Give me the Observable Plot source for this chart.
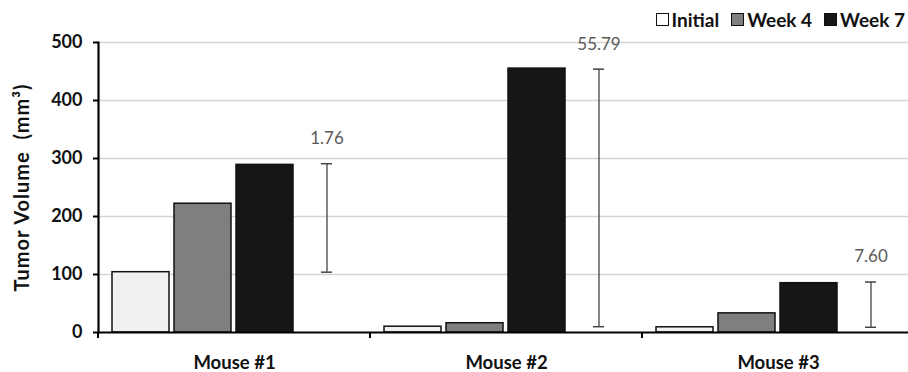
<!DOCTYPE html>
<html>
<head>
<meta charset="utf-8">
<script src="https://cdn.jsdelivr.net/npm/d3@7"></script>
<script src="https://cdn.jsdelivr.net/npm/@observablehq/plot@0.6"></script>
<style>
  html, body { margin: 0; padding: 0; background: #fff; }
  body { width: 908px; height: 372px; overflow: hidden; font-family: Lato, "DejaVu Sans", sans-serif; }
  #legend { height: 30px; display: flex; justify-content: flex-end; align-items: center; padding-right: 3px; font-weight: bold; font-size: 19px; color: #111; box-sizing: border-box; padding-top: 9px; }
  #legend .item { display: flex; align-items: center; margin-left: 12px; }
  #legend .sw { width: 11px; height: 11px; border: 1.5px solid #111; margin-right: 3px; }
  g[aria-label="y-axis label"] { font-size: 20px; letter-spacing: 1px; }
</style>
</head>
<body>
<div id="legend"></div>
<div id="chart"></div>
<script>
// ---- data ----
const mice = ["Mouse #1", "Mouse #2", "Mouse #3"];
const series = ["Initial", "Week 4", "Week 7"];
const initial = [104, 10, 9];
const week4 = [222, 16, 33];
const week7 = [289, 455, 85];
const errLow = [104, 10, 9];
const errHigh = [291, 454, 87];
const foldLabels = ["1.76", "55.79", "7.60"];
const yTicks = [0, 100, 200, 300, 400, 500];
const yLabel = "Tumor Volume  (mm\u00B3)";

// ---- styles ----
const fillColors = ["#f0f0f0", "#7f7f7f", "#161616"];

// ---- tables ----
const valuesBySeries = [initial, week4, week7];
const rows = [];
mice.forEach((m, i) => series.forEach((s, j) => rows.push({mouse: m, series: s, value: valuesBySeries[j][i]})));
const errRows = mice.map((m, i) => ({mouse: m, slot: "err", low: errLow[i], high: errHigh[i], label: foldLabels[i]}));

// legend
const legend = d3.select("#legend");
series.forEach((s, j) => {
  const it = legend.append("div").attr("class", "item");
  it.append("div").attr("class", "sw").style("background", j === 0 ? "#fff" : fillColors[j]);
  it.append("span").text(s);
});

// boundary tick under the x axis at the left edge of each group
function boundaryTick(index, scales, values, dims) {
  const y0 = scales.y(0);
  const g = d3.create("svg:g");
  g.append("line")
    .attr("x1", dims.marginLeft).attr("x2", dims.marginLeft)
    .attr("y1", y0).attr("y2", y0 + 6)
    .attr("stroke", "#000").attr("stroke-width", 2);
  return g.node();
}

const chart = Plot.plot({
  width: 908,
  height: 342,
  marginLeft: 98,
  marginRight: -6,
  marginTop: 12,
  marginBottom: 40,
  style: {fontFamily: "Lato, sans-serif", background: "#fff", color: "#111", overflow: "visible"},
  fx: {domain: mice, paddingInner: 0, paddingOuter: 0, label: null},
  x: {domain: [...series, "err"], paddingInner: 0.08, paddingOuter: 0.22, axis: null},
  y: {domain: [0, 500]},
  color: {domain: series, range: fillColors},
  marks: [
    Plot.gridY(yTicks.filter(v => v > 0), {stroke: "#d4d4d4", strokeOpacity: 1, strokeWidth: 1.3}),
    Plot.barY(rows, {fx: "mouse", x: "series", y: "value", fill: "series", stroke: "#111", strokeWidth: 1.5}),
    Plot.ruleX(errRows, {fx: "mouse", x: "slot", y1: "low", y2: "high", stroke: "#444", strokeWidth: 1.3}),
    Plot.tickY(errRows, {fx: "mouse", x: "slot", y: "low", stroke: "#444", strokeWidth: 1.5, insetLeft: 23, insetRight: 23}),
    Plot.tickY(errRows, {fx: "mouse", x: "slot", y: "high", stroke: "#444", strokeWidth: 1.5, insetLeft: 23, insetRight: 23}),
    Plot.text(errRows, {fx: "mouse", x: "slot", y: "high", text: "label", dy: -25, fill: "#5a5a5a", fontSize: 17}),
    Plot.ruleY([0], {stroke: "#000", strokeWidth: 2.2}),
    Plot.frame({anchor: "left", facetAnchor: "left", stroke: "#000", strokeWidth: 2.2}),
    boundaryTick,
    Plot.axisY(yTicks, {anchor: "left", tickSize: 5, tickPadding: 11, fontSize: 18, fontWeight: "bold", stroke: "#000", strokeWidth: 2, label: yLabel, labelAnchor: "center", labelArrow: "none", labelOffset: 84}),
    Plot.axisFx({anchor: "bottom", tickSize: 0, tickPadding: 23, fontSize: 18.5, fontWeight: "bold", label: null})
  ]
});
document.getElementById("chart").appendChild(chart);
</script>
</body>
</html>
